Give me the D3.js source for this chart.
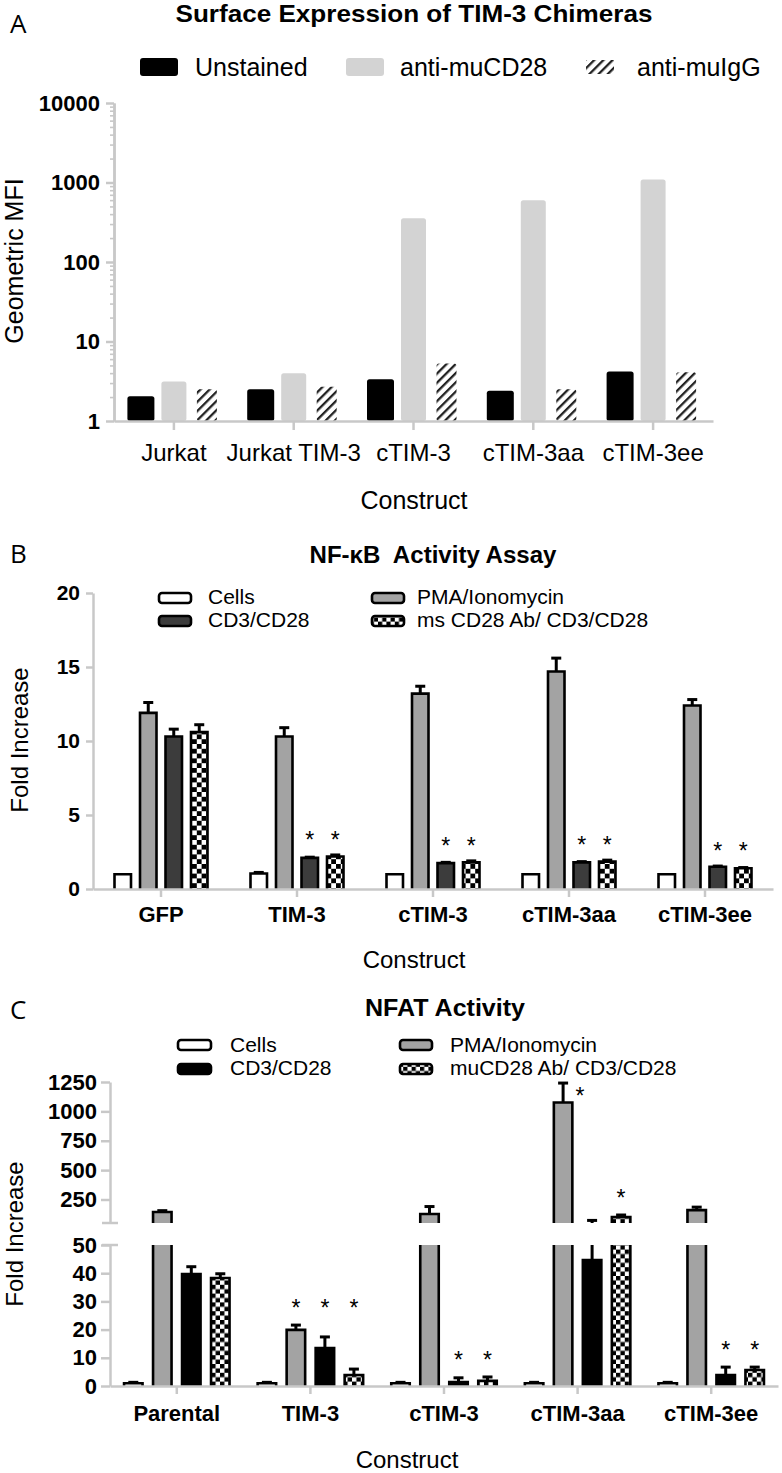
<!DOCTYPE html>
<html><head><meta charset="utf-8">
<script src="https://cdn.jsdelivr.net/npm/d3@7"></script>
<style>
body{margin:0;background:#fff}
svg text{font-family:"Liberation Sans",Arial,Helvetica,sans-serif;fill:#000}
</style>
</head><body>
<svg id="c" width="782" height="1473"></svg>
<script>
// ---------- Panel A data ----------
const constructsA = ["Jurkat", "Jurkat TIM-3", "cTIM-3", "cTIM-3aa", "cTIM-3ee"];
const seriesA = ["Unstained", "anti-muCD28", "anti-muIgG"];
const unstainedA = [2.05, 2.5, 3.35, 2.4, 4.2];
const antiCD28A = [3.15, 4.0, 355, 596, 1090];
const antiIgGA = [2.5, 2.7, 5.3, 2.5, 4.1];
const ticksA = [1, 10, 100, 1000, 10000];

// ---------- Panel B data ----------
const constructsB = ["GFP", "TIM-3", "cTIM-3", "cTIM-3aa", "cTIM-3ee"];
const seriesB = ["Cells", "PMA/Ionomycin", "CD3/CD28", "ms CD28 Ab/ CD3/CD28"];
const cellsB = [1.0, 1.05, 1.0, 1.0, 1.0];
const cellsErrB = [1.0, 1.12, 1.0, 1.0, 1.0];
const pmaB = [11.9, 10.3, 13.2, 14.7, 12.4];
const pmaErrB = [12.6, 10.9, 13.7, 15.6, 12.8];
const cd3B = [10.3, 2.1, 1.75, 1.8, 1.5];
const cd3ErrB = [10.8, 2.15, 1.8, 1.85, 1.55];
const chkB = [10.6, 2.2, 1.8, 1.85, 1.4];
const chkErrB = [11.1, 2.3, 1.9, 1.95, 1.45];
const sigCd3B = [0, 1, 1, 1, 1];
const sigChkB = [0, 1, 1, 1, 1];
const ticksB = [0, 5, 10, 15, 20];

// ---------- Panel C data ----------
const constructsC = ["Parental", "TIM-3", "cTIM-3", "cTIM-3aa", "cTIM-3ee"];
const seriesC = ["Cells", "PMA/Ionomycin", "CD3/CD28", "muCD28 Ab/ CD3/CD28"];
const cellsC = [1, 1, 1, 1, 1];
const cellsErrC = [1.3, 1.3, 1.3, 1.3, 1.3];
const pmaC = [144, 19.9, 127, 1076, 160];
const pmaErrC = [155, 21.6, 190, 1241, 185];
const cd3C = [39.7, 13.5, 1.4, 44.7, 3.9];
const cd3ErrC = [42.3, 17.4, 2.9, 72, 6.7];
const chkC = [38.3, 3.9, 1.8, 101, 5.7];
const chkErrC = [39.8, 6.0, 3.2, 118, 6.7];
const sigPmaC = [0, 1, 0, 2, 0];   // 2 = asterisk beside the error cap
const sigCd3C = [0, 1, 1, 0, 1];
const sigChkC = [0, 1, 1, 1, 1];
const ticksCLow = [0, 10, 20, 30, 40, 50];
const ticksCUp = [250, 500, 750, 1000, 1250];

// ---------- drawing ----------
const svg = d3.select("#c");
const defs = svg.append("defs");
const AX = "#c8c8c8";
const FONT = '"Liberation Sans",Arial,Helvetica,sans-serif';

const hatch = defs.append("pattern").attr("id", "hatch").attr("patternUnits", "userSpaceOnUse")
  .attr("width", 6.5).attr("height", 6.5).attr("patternTransform", "rotate(45)");
hatch.append("rect").attr("width", 6.5).attr("height", 6.5).attr("fill", "#fff");
hatch.append("rect").attr("width", 2.3).attr("height", 6.5).attr("fill", "#222");

function checker(id, s) {
  const p = defs.append("pattern").attr("id", id).attr("patternUnits", "userSpaceOnUse")
    .attr("width", 2 * s).attr("height", 2 * s);
  p.append("rect").attr("width", 2 * s).attr("height", 2 * s).attr("fill", "#fff");
  p.append("rect").attr("width", s).attr("height", s).attr("fill", "#000");
  p.append("rect").attr("x", s).attr("y", s).attr("width", s).attr("height", s).attr("fill", "#000");
}
checker("chkB", 4.8);
checker("chkC", 4.4);
checker("chkL", 4.2);

function styleAxis(g, size, bold) {
  g.attr("font-family", null).attr("font-size", null);
  g.select(".domain").attr("stroke", AX).attr("stroke-width", 2.5);
  g.selectAll(".tick line").attr("stroke", AX).attr("stroke-width", 2.5);
  g.selectAll(".tick text").style("font-family", FONT).style("font-size", size + "px")
    .style("font-weight", bold ? "bold" : "normal").attr("fill", "#000");
}
function text(x, y, s, size, opts = {}) {
  const t = svg.append("text").attr("x", x).attr("y", y).text(s)
    .style("font-size", size + "px")
    .style("font-weight", opts.bold ? "bold" : "normal")
    .attr("text-anchor", opts.anchor || "start");
  if (opts.family) t.style("font-family", opts.family);
  if (opts.len) t.attr("textLength", opts.len).attr("lengthAdjust", "spacingAndGlyphs");
  if (opts.rot) t.attr("x", 0).attr("y", 0).attr("transform", `translate(${x},${y}) rotate(-90)`);
  t.style("white-space", "pre");
  return t;
}
const LETTER = '"Open Sans",sans-serif';

// ===== Panel A =====
text(10, 33, "A", 26, {family: LETTER});
text(414, 22, "Surface Expression of TIM-3 Chimeras", 24, {bold: true, anchor: "middle", len: 477});

const xA = d3.scaleBand().domain(constructsA).range([114, 713]);
const sA = d3.scaleBand().domain(seriesA).range([-49.5, 49.5]);
const yA = d3.scaleLog().domain([1, 10000]).range([421, 103]);
const valsA = [unstainedA, antiCD28A, antiIgGA];
const fillA = ["#000", "#d3d3d3", "url(#hatch)"];
const widthA = [27, 25, 20];

seriesA.forEach((s, si) => {
  svg.append("g").selectAll("rect").data(constructsA).join("rect")
    .attr("x", (c) => xA(c) + xA.bandwidth() / 2 + sA(s) + sA.bandwidth() / 2 - widthA[si] / 2)
    .attr("width", widthA[si])
    .attr("y", (c, i) => yA(valsA[si][i]))
    .attr("height", (c, i) => yA(1) - yA(valsA[si][i]))
    .attr("rx", 2.5)
    .attr("fill", fillA[si]);
});

// minor log ticks
const minorA = yA.ticks().filter(v => !ticksA.includes(v));
const gAmin = svg.append("g").attr("transform", "translate(114,0)")
  .call(d3.axisLeft(yA).tickValues(minorA).tickSize(4).tickSizeOuter(0).tickFormat(""));
styleAxis(gAmin, 10, false);
gAmin.selectAll(".tick line").attr("stroke-width", 1.6);
const gAy = svg.append("g").attr("transform", "translate(114,0)")
  .call(d3.axisLeft(yA).tickValues(ticksA).tickSize(8).tickPadding(6).tickSizeOuter(0).tickFormat(d3.format("d")));
styleAxis(gAy, 22, true);
const gAx = svg.append("g").attr("transform", "translate(0,421)")
  .call(d3.axisBottom(xA).tickSize(9).tickPadding(14).tickSizeOuter(0));
styleAxis(gAx, 24, false);

text(23, 261, "Geometric MFI", 25, {anchor: "middle", rot: true});
text(414, 509, "Construct", 25, {anchor: "middle"});

// legend A
svg.append("rect").attr("x", 140).attr("y", 58).attr("width", 38).attr("height", 18).attr("rx", 3).attr("fill", "#000");
text(195, 76, seriesA[0], 25);
svg.append("rect").attr("x", 346).attr("y", 58).attr("width", 38).attr("height", 18).attr("rx", 3).attr("fill", "#d3d3d3");
text(400, 76, seriesA[1], 25);
svg.append("rect").attr("x", 586).attr("y", 60).attr("width", 28).attr("height", 14).attr("fill", "url(#hatch)");
text(637, 76, seriesA[2], 25);

// ===== generic grouped bar with outline =====
function barOutline(g, x0, w, yTop, yBot, closedTop, fill) {
  g.append("rect").attr("x", x0).attr("y", yTop).attr("width", w).attr("height", Math.max(0, yBot - yTop)).attr("fill", fill);
  const p = closedTop
    ? `M${x0},${yBot}V${yTop}H${x0 + w}V${yBot}`
    : `M${x0},${yBot}V${yTop}M${x0 + w},${yTop}V${yBot}`;
  g.append("path").attr("d", p).attr("fill", "none").attr("stroke", "#000").attr("stroke-width", 2.6);
}
function errBar(g, cx, y1, y2, cap, capOnly) {
  if (!capOnly) g.append("line").attr("x1", cx).attr("x2", cx).attr("y1", y1).attr("y2", y2).attr("stroke", "#000").attr("stroke-width", 3);
  g.append("line").attr("x1", cx - cap / 2).attr("x2", cx + cap / 2).attr("y1", y2).attr("y2", y2).attr("stroke", "#000").attr("stroke-width", 3);
}
function star(x, yc) {
  svg.append("text").attr("x", x).attr("y", yc + 13).attr("text-anchor", "middle").text("*").style("font-size", "23px");
}

// ===== Panel B =====
text(10, 563, "B", 26, {family: LETTER});
text(433, 563, "NF-κB  Activity Assay", 23, {bold: true, anchor: "middle", len: 247});

const xB = d3.scaleBand().domain(constructsB).range([93, 773]);
const sB = d3.scaleBand().domain(seriesB).range([-51, 51]);
const yB = d3.scaleLinear().domain([0, 20]).range([889, 593]);
const valsB = [cellsB, pmaB, cd3B, chkB];
const errsB = [cellsErrB, pmaErrB, cd3ErrB, chkErrB];
const fillB = ["#fff", "#a3a3a3", "#3c3c3c", "url(#chkB)"];
const bwB = 16.5;
const gB = svg.append("g");
seriesB.forEach((s, si) => {
  constructsB.forEach((c, i) => {
    const cx = xB(c) + xB.bandwidth() / 2 + sB(s) + sB.bandwidth() / 2;
    const v = valsB[si][i], e = errsB[si][i];
    if (e > v) errBar(gB, cx, yB(v), yB(e), 10);
    barOutline(gB, cx - bwB / 2, bwB, yB(v), yB(0), true, fillB[si]);
  });
});
constructsB.forEach((c, i) => {
  const starred = [];
  if (sigCd3B[i]) starred.push([2, cd3ErrB[i]]);
  if (sigChkB[i]) starred.push([3, chkErrB[i]]);
  if (!starred.length) return;
  const yc = d3.min(starred, d => yB(d[1])) - 20;
  starred.forEach(d => star(xB(c) + xB.bandwidth() / 2 + sB(seriesB[d[0]]) + sB.bandwidth() / 2, yc));
});

const gBy = svg.append("g").attr("transform", "translate(93,0)")
  .call(d3.axisLeft(yB).tickValues(ticksB).tickSize(7).tickPadding(6).tickSizeOuter(0));
styleAxis(gBy, 21, true);
const gBx = svg.append("g").attr("transform", "translate(0,889)")
  .call(d3.axisBottom(xB).tickSize(8).tickPadding(9).tickSizeOuter(0));
styleAxis(gBx, 22, true);
text(28, 740, "Fold Increase", 24, {anchor: "middle", rot: true});
text(414, 968, "Construct", 24, {anchor: "middle"});

// legend B
function legBox(x, y, w, h, fill) {
  svg.append("rect").attr("x", x).attr("y", y).attr("width", w).attr("height", h).attr("rx", 3)
    .attr("fill", fill).attr("stroke", "#000").attr("stroke-width", 2.6);
}
legBox(159, 593, 32, 10, "#fff"); text(208, 604, seriesB[0], 21);
legBox(159, 616, 32, 10, "#3c3c3c"); text(208, 627, seriesB[2], 21);
legBox(372, 593, 32, 10, "#a3a3a3"); text(417, 604, seriesB[1], 21);
legBox(372, 616, 32, 10, "url(#chkL)"); text(417, 627, seriesB[3], 21);

// ===== Panel C =====
text(10, 1019, "C", 26, {family: LETTER});
text(445, 1016, "NFAT Activity", 23, {bold: true, anchor: "middle", len: 160});

const xC = d3.scaleBand().domain(constructsC).range([110, 778]);
const sC = d3.scaleBand().domain(seriesC).range([-58, 58]);
const yLow = d3.scaleLinear().domain([0, 50]).range([1386, 1245]);
const yUp = d3.scaleLinear().domain([50, 1250]).range([1223, 1082]);
const yC = v => (v <= 50 ? yLow(v) : yUp(v));
const valsC = [cellsC, pmaC, cd3C, chkC];
const errsC = [cellsErrC, pmaErrC, cd3ErrC, chkErrC];
const sigsC = [null, sigPmaC, sigCd3C, sigChkC];
const fillC = ["#fff", "#a3a3a3", "#000", "url(#chkC)"];
const bwC = 18.5;
const gC = svg.append("g");
const cxC = (c, si) => xC(c) + xC.bandwidth() / 2 + sC(seriesC[si]) + sC.bandwidth() / 2;
seriesC.forEach((s, si) => {
  constructsC.forEach((c, i) => {
    const cx = cxC(c, si);
    const v = valsC[si][i], e = errsC[si][i];
    if (e <= 50) errBar(gC, cx, yLow(v), yLow(e), 10);
    else if (v <= 50) {
      gC.append("line").attr("x1", cx).attr("x2", cx).attr("y1", yLow(v)).attr("y2", yLow(50)).attr("stroke", "#000").attr("stroke-width", 3);
      errBar(gC, cx, yUp(50), yUp(e), 10);
    } else errBar(gC, cx, yUp(v), yUp(e), 10);
    if (v <= 50) barOutline(gC, cx - bwC / 2, bwC, yLow(v), yLow(0), true, fillC[si]);
    else {
      barOutline(gC, cx - bwC / 2, bwC, yLow(50), yLow(0), false, fillC[si]);
      barOutline(gC, cx - bwC / 2, bwC, yUp(v), yUp(50), true, fillC[si]);
    }
  });
});
constructsC.forEach((c, i) => {
  const starred = [];
  [1, 2, 3].forEach(si => { if (sigsC[si][i] === 1) starred.push([si, errsC[si][i]]); });
  if (starred.length) {
    const yc = d3.min(starred, d => yC(d[1])) - 22;
    starred.forEach(d => star(cxC(c, d[0]), yc));
  }
  [1, 2, 3].forEach(si => {
    if (sigsC[si][i] === 2) star(cxC(c, si) + 17, yC(errsC[si][i]) + 8);
  });
});

const gCl = svg.append("g").attr("transform", "translate(110,0)")
  .call(d3.axisLeft(yLow).tickValues(ticksCLow).tickSize(9).tickPadding(4).tickSizeOuter(0).tickFormat(d3.format("d")));
styleAxis(gCl, 22, true);
const gCu = svg.append("g").attr("transform", "translate(110,0)")
  .call(d3.axisLeft(yUp).tickValues(ticksCUp).tickSize(9).tickPadding(4).tickSizeOuter(0).tickFormat(d3.format("d")));
styleAxis(gCu, 22, true);
[yLow(50), yUp(50)].forEach(y => {
  svg.append("line").attr("x1", 102).attr("x2", 118).attr("y1", y).attr("y2", y).attr("stroke", AX).attr("stroke-width", 2.5);
});
const gCx = svg.append("g").attr("transform", "translate(0,1386)")
  .call(d3.axisBottom(xC).tickSize(8).tickPadding(11).tickSizeOuter(0));
styleAxis(gCx, 22, true);
text(23, 1234, "Fold Increase", 24, {anchor: "middle", rot: true});
text(407, 1468, "Construct", 24, {anchor: "middle"});

// legend C
legBox(178, 1040, 33, 10, "#fff"); text(230, 1052, seriesC[0], 21);
legBox(178, 1064, 33, 10, "#000"); text(230, 1075, seriesC[2], 21);
legBox(400, 1040, 32, 10, "#a3a3a3"); text(450, 1052, seriesC[1], 21);
legBox(400, 1064, 32, 10, "url(#chkL)"); text(450, 1075, seriesC[3], 21);
</script>
</body></html>
